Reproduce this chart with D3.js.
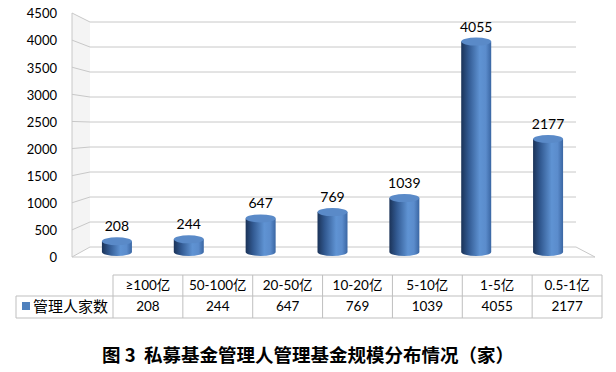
<!DOCTYPE html>
<html>
<head>
<meta charset="utf-8">
<script src="https://cdn.jsdelivr.net/npm/d3@7"></script>
<style>
  body { margin: 0; background: #fff; }
  text { font-family: "Lato", "Noto Sans CJK SC", sans-serif; fill: #000; }
</style>
</head>
<body>
<div id="chart"></div>
<script>
// Chart data
const categories = ["≥100亿", "50-100亿", "20-50亿", "10-20亿", "5-10亿", "1-5亿", "0.5-1亿"];
const counts = [208, 244, 647, 769, 1039, 4055, 2177];
const seriesName = "管理人家数";
const yTicks = [0, 500, 1000, 1500, 2000, 2500, 3000, 3500, 4000, 4500];
const title = "图 3  私募基金管理人管理基金规模分布情况（家）";

const W = 616, H = 372;
const svg = d3.select("#chart").append("svg").attr("width", W).attr("height", H);

// 3D box geometry: side wall front x / back x, back wall right edge, floor front right
const sideX0 = 72, sideX1 = 90, backRight = 576, floorRight = 595;
const yFront = d3.scaleLinear().domain([0, 4500]).range([257, 13]);
const yBack = d3.scaleLinear().domain([0, 4500]).range([247, 22]);
const yMid = d3.scaleLinear().domain([0, 4500]).range([252, 18.5]);

const x = d3.scaleBand().domain(categories).range([81, 584]);
const colX = d3.scaleBand().domain(categories).range([113, 602]);

const defs = svg.append("defs");
const grad = defs.append("linearGradient").attr("id", "cyl").attr("x1", 0).attr("x2", 1).attr("y1", 0).attr("y2", 0);
grad.append("stop").attr("offset", "0%").attr("stop-color", "#1b3358");
grad.append("stop").attr("offset", "25%").attr("stop-color", "#325a92");
grad.append("stop").attr("offset", "62%").attr("stop-color", "#5f93d3");
grad.append("stop").attr("offset", "82%").attr("stop-color", "#5b8ccc");
grad.append("stop").attr("offset", "100%").attr("stop-color", "#3a66a3");

// side wall
svg.append("path")
  .attr("d", `M${sideX0},${yFront(4500)}L${sideX1},${yBack(4500)}L${sideX1},${yBack(0)}L${sideX0},${yFront(0)}Z`)
  .attr("fill", "#f4f4f4");
svg.append("line").attr("x1", sideX0).attr("x2", sideX0).attr("y1", yFront(4500)).attr("y2", yFront(0))
  .attr("stroke", "#c8c8c8");

// gridlines
yTicks.forEach((t) => {
  svg.append("line").attr("x1", sideX0).attr("y1", yFront(t)).attr("x2", sideX1).attr("y2", yBack(t))
    .attr("stroke", "#c8c8c8");
  svg.append("line").attr("x1", sideX1).attr("y1", yBack(t)).attr("x2", backRight).attr("y2", yBack(t))
    .attr("stroke", "#c8c8c8");
});

// floor
svg.append("path")
  .attr("d", `M${sideX0},${yFront(0)}L${floorRight},${yFront(0)}L${backRight},${yBack(0)}`)
  .attr("fill", "none").attr("stroke", "#c8c8c8");

// y tick labels
svg.selectAll(".ytick").data(yTicks).enter().append("text")
  .attr("x", 57).attr("y", (d) => yFront(d) + 2)
  .attr("text-anchor", "end").attr("dominant-baseline", "middle")
  .style("font-size", "13px").text((d) => d);

// cylinders
const rx = 15, ry = 4;
const bars = svg.selectAll(".bar").data(counts).enter().append("g");
bars.append("path")
  .attr("d", (d, i) => {
    const cx = x(categories[i]) + x.bandwidth() / 2;
    const top = yMid(d), bot = yMid(0);
    return `M${cx - rx},${top}L${cx - rx},${bot}A${rx},${ry} 0 0 0 ${cx + rx},${bot}L${cx + rx},${top}Z`;
  })
  .attr("fill", "url(#cyl)");
bars.append("ellipse")
  .attr("cx", (d, i) => x(categories[i]) + x.bandwidth() / 2)
  .attr("cy", (d) => yMid(d))
  .attr("rx", rx).attr("ry", ry)
  .attr("fill", "#5a8ac8");
bars.append("text")
  .attr("x", (d, i) => x(categories[i]) + x.bandwidth() / 2)
  .attr("y", (d) => yMid(d) - 10)
  .attr("text-anchor", "middle")
  .style("font-size", "14px").text((d) => d);

// data table
const tStroke = "#bfbfbf";
const row1 = 275, row2 = 296, row3 = 318, tLeft = 16;
svg.append("line").attr("x1", colX.range()[0]).attr("x2", colX.range()[1]).attr("y1", row1).attr("y2", row1).attr("stroke", tStroke);
svg.append("line").attr("x1", tLeft).attr("x2", colX.range()[1]).attr("y1", row2).attr("y2", row2).attr("stroke", tStroke);
svg.append("line").attr("x1", tLeft).attr("x2", colX.range()[1]).attr("y1", row3).attr("y2", row3).attr("stroke", tStroke);
svg.append("line").attr("x1", tLeft).attr("x2", tLeft).attr("y1", row2).attr("y2", row3).attr("stroke", tStroke);
categories.forEach((c) => {
  svg.append("line").attr("x1", colX(c)).attr("x2", colX(c)).attr("y1", row1).attr("y2", row3).attr("stroke", tStroke);
});
svg.append("line").attr("x1", colX.range()[1]).attr("x2", colX.range()[1]).attr("y1", row1).attr("y2", row3).attr("stroke", tStroke);

svg.selectAll(".cat").data(categories).enter().append("text")
  .attr("x", (d) => colX(d) + colX.bandwidth() / 2).attr("y", (row1 + row2) / 2 + 1)
  .attr("text-anchor", "middle").attr("dominant-baseline", "middle")
  .style("font-size", "13.5px").text((d) => d);
svg.selectAll(".val").data(counts).enter().append("text")
  .attr("x", (d, i) => colX(categories[i]) + colX.bandwidth() / 2).attr("y", (row2 + row3) / 2 + 1)
  .attr("text-anchor", "middle").attr("dominant-baseline", "middle")
  .style("font-size", "13.5px").text((d) => d);

svg.append("rect").attr("x", 22).attr("y", 302).attr("width", 8).attr("height", 8).attr("fill", "#4f81bd");
svg.append("text").attr("x", 33).attr("y", (row2 + row3) / 2 + 1)
  .attr("dominant-baseline", "middle")
  .style("font-size", "15px").style("font-family", "'Noto Sans CJK SC'").text(seriesName);

// title
svg.append("text").attr("x", 308).attr("y", 357)
  .attr("text-anchor", "middle").attr("dominant-baseline", "middle")
  .style("font-size", "18.5px").style("font-weight", "bold").style("font-family", "'Noto Sans CJK SC'")
  .attr("xml:space", "preserve")
  .text(title);
</script>
</body>
</html>
